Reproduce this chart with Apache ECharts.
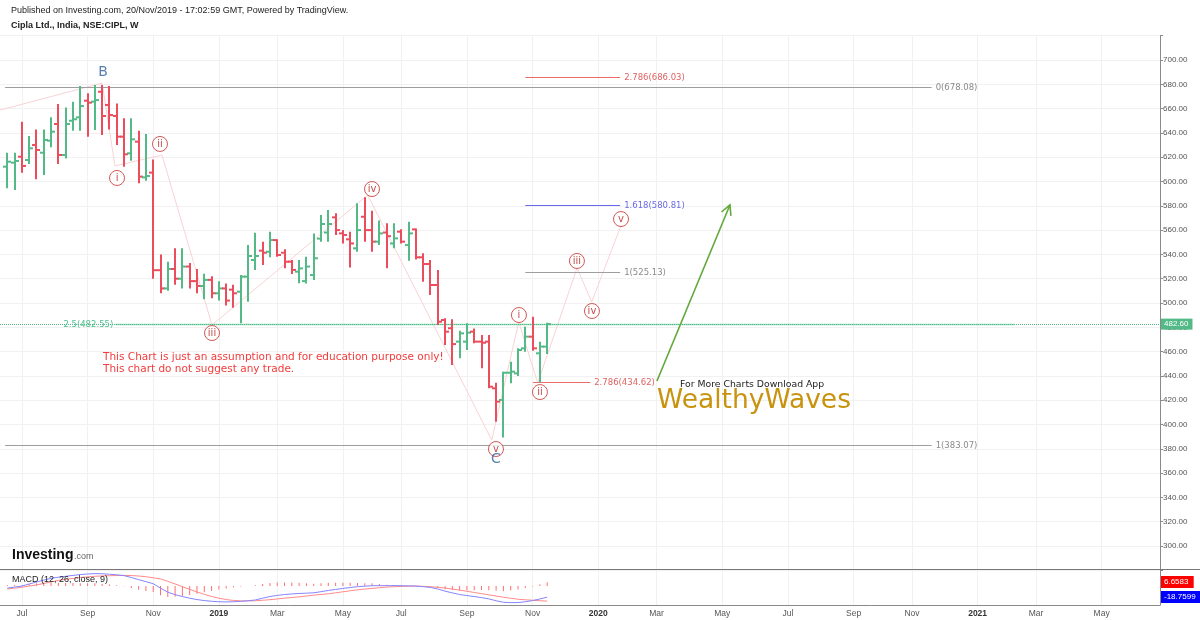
<!DOCTYPE html>
<html><head><meta charset="utf-8">
<script src="https://cdn.jsdelivr.net/npm/echarts@6/dist/echarts.min.js"></script>
<style>html,body{margin:0;padding:0;background:#fff}#c{width:1200px;height:620px}</style>
</head><body><div id="c"></div>
<script>
// ---- time axis: weekly slots, slot 0 = week of 11 Jun 2018 ----
const weekCount = 160;
const firstBarWeek = 1; // first bar: week of 18 Jun 2018
const monthTickWeek = [3, 12, 21, 30, 38, 47, 55, 64, 73, 82, 90, 99, 108, 117, 125, 134, 142, 151];
const monthTickText = ['Jul','Sep','Nov','2019','Mar','May','Jul','Sep','Nov','2020','Mar','May','Jul','Sep','Nov','2021','Mar','May'];

// ---- weekly OHLC (Cipla, NSE) ----
const opens  = [612.2,615.5,620.4,617.7,630,623.7,633.6,647.3,621.8,650,652.8,666.5,665.7,673.9,663,653.9,636.9,623.2,632.8,603.4,
                607.3,527,512,528,520,530,518,514,519,508,512,511,509.3,521.7,535.4,543.1,542.2,551.8,541.4,534,
                525.8,518,523,553,558,570.5,557.3,552.4,545,571,560,550.5,558,549,558.7,547.7,560.6,537.6,532.1,514.8,
                486,479.2,468.2,468.2,476.4,468.2,468.2,429.8,420.2,442.6,442.1,462.7,472.3,458.6,464.1];
const highs  = [623.7,623.7,649.2,637.4,642.9,642.9,652.8,663.8,661,665.7,678.6,672.6,679.4,679.4,678.6,664.3,652,652,641.8,639.1,
                618.2,540,534,545,545,533,528,524,522,518,516,515,523,547.7,557.9,550.5,558.7,552.4,544.2,535.4,
                535.4,538,557.3,572.4,576.5,573.8,560,558.7,582,587,576,567.8,565.6,565.6,560.6,566.9,561.4,540.9,535.4,527.2,
                487.4,486.6,477.2,483.3,479.1,473.7,473.7,434.4,443.5,451.7,462.7,480.5,488.7,468.2,483.8];
const lows   = [594.4,593,607.3,614.4,601.8,605.3,628.1,614.4,619,641.8,641.8,636.9,642.4,638.3,642.9,630,612.2,617.1,598.5,600.7,
                520,508,510,515,512,512,508,503,504,502,498,496,483.3,501.1,527.2,531.3,537.6,538.1,528.5,523.9,
                516.2,516,518.9,550.5,550.5,556,549,529.3,542.2,550.5,542.2,547.7,528.5,545,549,534.8,535.9,517.5,506.6,481.9,
                465.4,449,454.5,461.3,466.8,446.2,429.8,402.3,389.4,433.9,439.9,459.9,460.8,434.62,458];
const closes = [616.3,616.9,612.8,627.3,625.9,634.2,641,621.8,647.3,651.2,662.1,664.9,667,653.9,654.7,636.9,622.4,634.7,604,604.5,
                527,512,528,520,530,518,514,519,508,512,502,508,521.7,538.7,538.7,541.4,551.8,539.5,534,527.2,
                528.5,530,536.8,565,565,560,556,549,560,560,550.5,557.3,555,553.2,550.5,557.3,537.6,532.1,514.8,484.6,
                476.4,466.2,475,475.6,468.2,467.3,431.1,418.8,442.6,443.5,461.3,472.3,462.7,464.1,482.6];

// ---- MACD (12, 26, close, 9) ----
const macdLine   = [-3.4,-1.7,0,3.5,6.8,10,13.1,15,16.5,18,19.4,20.4,21.1,20.8,20,19,17.7,14.5,10.8,7.5,
                    4,-3.5,-10.3,-14.5,-17.7,-20.5,-22.8,-24.5,-25.7,-26.5,-26.8,-26.5,-25.8,-24.8,-23.5,-20.5,-17.7,-15.8,-14.3,-13.3,
                    -12.5,-12,-11.4,-9.5,-7.4,-5.7,-4,-2.5,-1.1,-0.2,0.6,0.7,0.6,0.8,0.6,0.3,0,-1,-2.3,-5,
                    -8.6,-11.5,-14.3,-16,-17.7,-19.5,-21.7,-24.8,-27.4,-28,-27.9,-26.5,-24.5,-21.8,-18.7599];
const signalLine = [-5,-3.6,-2,0,2,4.5,7,9.5,11.5,13,14.5,15.6,16.5,17.1,17.5,17.8,18,17.8,17,15.8,
                    14,12,8,3.5,-1,-5.5,-10,-14,-17.5,-20.5,-22.8,-24.3,-25,-25.1,-24.8,-24,-23,-21.8,-20.5,-19.3,
                    -18.2,-16.8,-15.4,-14.2,-13.1,-11.4,-9.7,-8,-6.3,-5.1,-4,-2.8,-1.7,-1.1,-0.6,-0.3,0,-0.5,-1.1,-2.2,
                    -3.4,-5,-6.8,-8.8,-10.8,-12.8,-14.8,-16.8,-18.8,-20.6,-22.2,-23.2,-23.9,-24.8,-25.42];
const histogram  = [1.6,1.9,2,3.5,4.8,5.5,6.1,5.5,5,5,4.9,4.8,4.6,3.7,2.5,1.2,-0.3,-3.3,-6.2,-8.3,
                    -10,-15.5,-18.3,-18,-16.7,-15,-12.8,-10.5,-8.2,-6,-4,-2.2,-0.8,0.3,1.3,3.5,5.3,6,6.2,6,
                    5.7,4.8,4,4.7,5.7,5.7,5.7,5.5,5.2,4.9,4.6,3.5,2.3,1.9,1.2,0.6,0,-0.5,-1.2,-2.8,
                    -5.2,-6.5,-7.5,-7.2,-6.9,-6.7,-6.9,-8,-8.6,-7.4,-5.7,-3.3,-0.6,3,6.6583];

// ---- drawings (week slot, price) ----
const fibName  = ['0(678.08)','1(383.07)','2.786(686.03)','1.618(580.81)','1(525.13)','2.786(434.62)','2.5(482.55)'];
const fibPrice = [678.08, 383.07, 686.03, 580.81, 525.13, 434.62, 482.55];
const fibFrom  = [0.7, 0.7, 72.0, 72.0, 72.0, 73.05, 15.8];
const fibTo    = [127.7, 127.7, 85.0, 85.0, 85.0, 80.9, 139.1];
const fibKind  = ['gray','gray','red','blue','gray','red','green'];

const waveText  = ['i','ii','iii','iv','v','i','ii','iii','iv','v'];
const waveWeek  = [16.04, 21.93, 29.06, 50.99, 67.98, 71.13, 74.01, 79.08, 81.14, 85.12];
const wavePrice = [602.9, 630.9, 475.3, 593.8, 379.8, 490.1, 426.7, 534.6, 493.4, 569.1];
const letterText  = ['B','C'];
const letterWeek  = [14.12, 67.98];
const letterPrice = [690.1, 371.6];

const pathWeek  = [0, 14, 15.76, 22.2, 29.06, 50.4, 67.4, 71.1, 73.7, 79.1, 81.1, 85.1];
const pathPrice = [658.8, 681, 612.8, 621.8, 481.9, 588.9, 387.2, 484.4, 434.2, 528.8, 500.8, 563.4];

const arrowWeek  = [90.05, 100.05];
const arrowPrice = [435.8, 580.7];

const lastPrice = 482.60;
const lastHist = 6.6583, lastMacd = -18.7599;

// ---- styling ----
const GREEN = '#53b987', RED = '#eb4d5c';
const fibStyle = {
  gray:  {line:'#9e9e9e', text:'#8a8a8a'},
  red:   {line:'#ef6b6b', text:'#e06262'},
  blue:  {line:'#6a6af0', text:'#6a6ae6'},
  green: {line:'#8fdcb9', text:'#4fc08f'}
};
const axisFont = 'Liberation Sans';
const drawFont = 'DejaVu Sans';

const cats = Array.from({length: weekCount}, (_, k) => {
  const j = monthTickWeek.indexOf(k);
  return j >= 0 ? monthTickText[j] : 'w' + k;
});
const isTick = (idx) => monthTickWeek.indexOf(idx) >= 0;

const ohlcData = opens.map((o, i) => [i + firstBarWeek, o, highs[i], lows[i], closes[i]]);
const fibData = fibPrice.map((p, i) => [fibFrom[i], p, fibTo[i], i]);
const waveData = waveText.map((t, i) => [waveWeek[i], wavePrice[i], t]);
const letterData = letterText.map((t, i) => [letterWeek[i], letterPrice[i], t]);
const pathData = pathWeek.map((w, i) => [w, pathPrice[i]]);
const tagData = [[lastHist, '6.6583', '#ff0000'], [lastMacd, '-18.7599', '#0000ff']];

const chart = echarts.init(document.getElementById('c'), null, {renderer: 'canvas'});

const option = {
  animation: false,
  backgroundColor: '#ffffff',
  grid: [
    {left: 0, right: 40, top: 35.7, bottom: 49.7},
    {left: 0, right: 40, top: 569.5, bottom: 15}
  ],
  xAxis: [
    {type: 'category', gridIndex: 0, data: cats, boundaryGap: false,
     axisLine: {show: false, onZero: false}, axisTick: {show: false}, axisLabel: {show: false},
     splitLine: {show: true, interval: isTick, lineStyle: {color: '#f1f1f1', width: 1}}},
    {type: 'value', gridIndex: 0, min: 0, max: weekCount - 1, show: false, axisLine: {onZero: false}},
    {type: 'category', gridIndex: 1, data: cats, boundaryGap: false, position: 'bottom',
     axisLine: {show: true, onZero: false, lineStyle: {color: '#8a8a8a', width: 1}}, axisTick: {show: false},
     axisLabel: {show: true, interval: isTick, margin: 4, fontSize: 8.5, color: '#555', fontFamily: axisFont,
       formatter: v => /^\d{4}$/.test(v) ? '{y|' + v + '}' : v,
       rich: {y: {fontSize: 8.5, fontWeight: 'bold', color: '#333', fontFamily: axisFont}}},
     splitLine: {show: true, interval: isTick, lineStyle: {color: '#f1f1f1', width: 1}}},
    {type: 'value', gridIndex: 1, min: 0, max: weekCount - 1, show: false, axisLine: {onZero: false}}
  ],
  yAxis: [
    {type: 'value', gridIndex: 0, position: 'right', min: 280, max: 720, interval: 20,
     axisLine: {show: true, onZero: false, lineStyle: {color: '#8a8a8a', width: 1}},
     axisTick: {show: true, length: 3, lineStyle: {color: '#8a8a8a'}},
     axisLabel: {margin: 3, fontSize: 8, color: '#555', fontFamily: axisFont,
       formatter: v => (v < 300 || v > 700) ? '' : v.toFixed(2)},
     splitLine: {show: true, lineStyle: {color: '#f1f1f1', width: 1}}},
    {type: 'value', gridIndex: 1, position: 'right', min: -32, max: 28,
     axisLine: {show: true, onZero: false, lineStyle: {color: '#8a8a8a', width: 1}},
     axisTick: {show: false}, axisLabel: {show: false}, splitLine: {show: false}}
  ],
  series: [
    // faint Elliott wave path
    {type: 'line', xAxisIndex: 1, yAxisIndex: 0, data: pathData, symbol: 'none', silent: true, z: 1,
     lineStyle: {color: '#f9d2d5', width: 1}},
    // fib / horizontal drawings
    {type: 'custom', xAxisIndex: 1, yAxisIndex: 0, data: fibData, z: 2, silent: true,
     renderItem: (params, api) => {
       const i = api.value(3);
       const st = fibStyle[fibKind[i]];
       const a = api.coord([api.value(0), api.value(1)]);
       const b = api.coord([api.value(2), api.value(1)]);
       const y = Math.round(a[1]) + 0.5;
       const leftLabel = fibKind[i] === 'green';
       return {type: 'group', children: [
         {type: 'line', shape: {x1: a[0], y1: y, x2: b[0], y2: y}, style: {stroke: st.line, lineWidth: leftLabel ? 1.5 : 1}},
         {type: 'text', x: leftLabel ? a[0] - 2 : b[0] + 4, y: y,
          style: {text: fibName[i], fill: st.text, font: '8.5px ' + drawFont,
                  align: leftLabel ? 'right' : 'left', verticalAlign: 'middle',
                  textAlign: leftLabel ? 'right' : 'left', textVerticalAlign: 'middle'}}
       ]};
     }},
    // OHLC bars
    {type: 'custom', xAxisIndex: 1, yAxisIndex: 0, data: ohlcData, z: 5,
     markLine: {symbol: 'none', silent: true, animation: false,
       data: [{yAxis: lastPrice}],
       lineStyle: {type: 'dotted', color: GREEN, width: 1},
       label: {show: true, position: 'end', distance: 1, formatter: lastPrice.toFixed(2),
               backgroundColor: GREEN, color: '#fff', padding: [2, 4, 1, 3], fontSize: 8, fontFamily: axisFont}},
     renderItem: (params, api) => {
       const k = api.value(0);
       const o = api.value(1), h = api.value(2), l = api.value(3), c = api.value(4);
       const col = c >= o ? GREEN : RED;
       const ph = api.coord([k, h]), pl = api.coord([k, l]), po = api.coord([k, o]), pc = api.coord([k, c]);
       const x = Math.round(ph[0]);
       return {type: 'group', children: [
         {type: 'line', shape: {x1: x, y1: ph[1], x2: x, y2: pl[1]}, style: {stroke: col, lineWidth: 2}},
         {type: 'line', shape: {x1: x - 4, y1: po[1], x2: x, y2: po[1]}, style: {stroke: col, lineWidth: 2}},
         {type: 'line', shape: {x1: x, y1: pc[1], x2: x + 4, y2: pc[1]}, style: {stroke: col, lineWidth: 2}}
       ]};
     }},
    // wave labels (circled)
    {type: 'scatter', xAxisIndex: 1, yAxisIndex: 0, data: waveData, symbol: 'circle', symbolSize: 15, z: 8, silent: true,
     itemStyle: {color: '#ffffff', borderColor: '#c9302c', borderWidth: 1},
     label: {show: true, position: 'inside', formatter: p => p.value[2], color: '#b3211d',
             fontSize: 10, fontFamily: drawFont}},
    {type: 'scatter', xAxisIndex: 1, yAxisIndex: 0, data: letterData, symbol: 'circle', symbolSize: 1, z: 8, silent: true,
     itemStyle: {color: 'rgba(0,0,0,0)'},
     label: {show: true, position: 'inside', formatter: p => p.value[2], color: '#2f5f9e',
             fontSize: 14, fontFamily: drawFont}},
    // arrow
    {type: 'custom', xAxisIndex: 1, yAxisIndex: 0, z: 6, silent: true,
     data: [[arrowWeek[0], arrowPrice[0], arrowWeek[1], arrowPrice[1]]],
     renderItem: (params, api) => {
       const p0 = api.coord([api.value(0), api.value(1)]);
       const p1 = api.coord([api.value(2), api.value(3)]);
       const ang = Math.atan2(p1[1] - p0[1], p1[0] - p0[0]);
       const L = 11, a = Math.PI / 6.5;
       const h1 = [p1[0] - L * Math.cos(ang - a), p1[1] - L * Math.sin(ang - a)];
       const h2 = [p1[0] - L * Math.cos(ang + a), p1[1] - L * Math.sin(ang + a)];
       return {type: 'group', children: [
         {type: 'line', shape: {x1: p0[0], y1: p0[1], x2: p1[0], y2: p1[1]}, style: {stroke: '#62a83a', lineWidth: 1.6}},
         {type: 'polyline', shape: {points: [h1, p1, h2]}, style: {stroke: '#62a83a', lineWidth: 1.6, fill: null}}
       ]};
     }},
    // MACD panel
    {type: 'bar', xAxisIndex: 3, yAxisIndex: 1, barWidth: 1, silent: true,
     data: histogram.map((v, i) => [i + firstBarWeek, v]),
     itemStyle: {color: '#ff6f6f'}},
    {type: 'line', xAxisIndex: 3, yAxisIndex: 1, symbol: 'none', silent: true,
     data: signalLine.map((v, i) => [i + firstBarWeek, v]),
     lineStyle: {color: '#ff8a8a', width: 1}},
    {type: 'line', xAxisIndex: 3, yAxisIndex: 1, symbol: 'none', silent: true,
     data: macdLine.map((v, i) => [i + firstBarWeek, v]),
     lineStyle: {color: '#8585ff', width: 1}},
    // last-value tags on the MACD scale
    {type: 'custom', xAxisIndex: 3, yAxisIndex: 1, silent: true, z: 30, clip: false,
     data: tagData.map(t => [weekCount - 1, t[0]]),
     renderItem: (params, api) => {
       const t = tagData[params.dataIndex];
       const p = api.coord([api.value(0), api.value(1)]);
       const x = Math.round(p[0]) + 1, y = Math.round(p[1]);
       const w = t[1].length * 4.45 + 6;
       return {type: 'group', children: [
         {type: 'rect', shape: {x: x, y: y - 6, width: w, height: 12}, style: {fill: t[2]}},
         {type: 'text', x: x + 3, y: y, style: {text: t[1], fill: '#fff', font: '8px ' + axisFont,
           verticalAlign: 'middle', textVerticalAlign: 'middle'}}
       ]};
     }}
  ],
  graphic: [
    {type: 'text', x: 11, y: 11, style: {text: 'Published on Investing.com, 20/Nov/2019 - 17:02:59 GMT, Powered by TradingView.',
      font: '9px ' + axisFont, fill: '#222', verticalAlign: 'middle', textVerticalAlign: 'middle'}},
    {type: 'text', x: 11, y: 26, style: {text: 'Cipla Ltd., India, NSE:CIPL, W',
      font: 'bold 9px ' + axisFont, fill: '#222', verticalAlign: 'middle', textVerticalAlign: 'middle'}},
    {type: 'line', shape: {x1: 0, y1: 569.5, x2: 1200, y2: 569.5}, style: {stroke: '#777', lineWidth: 1}, z: 20},
    {type: 'text', x: 12, y: 580, style: {text: 'MACD (12, 26, close, 9)', font: '9px ' + axisFont, fill: '#222',
      verticalAlign: 'middle', textVerticalAlign: 'middle'}, z: 20},
    {type: 'text', x: 12, y: 555, style: {text: 'Investing', font: 'bold 14px ' + axisFont, fill: '#111',
      verticalAlign: 'middle', textVerticalAlign: 'middle'}, z: 20},
    {type: 'text', x: 74, y: 557, style: {text: '.com', font: '9px ' + axisFont, fill: '#666',
      verticalAlign: 'middle', textVerticalAlign: 'middle'}, z: 20},
    {type: 'text', x: 103, y: 357, style: {text: 'This Chart is just an assumption and for education purpose only!',
      font: '10.5px ' + drawFont, fill: '#f23b3b', verticalAlign: 'middle', textVerticalAlign: 'middle'}, z: 20},
    {type: 'text', x: 103, y: 369, style: {text: 'This chart do not suggest any trade.',
      font: '10.5px ' + drawFont, fill: '#f23b3b', verticalAlign: 'middle', textVerticalAlign: 'middle'}, z: 20},
    {type: 'text', x: 680, y: 385, style: {text: 'For More Charts Download App',
      font: '9.3px ' + drawFont, fill: '#222', verticalAlign: 'middle', textVerticalAlign: 'middle'}, z: 20},
    {type: 'text', x: 657, y: 401, style: {text: 'WealthyWaves',
      font: '26.5px ' + drawFont, fill: '#c8940f', verticalAlign: 'middle', textVerticalAlign: 'middle'}, z: 20}
  ]
};
chart.setOption(option);
</script>
</body></html>
